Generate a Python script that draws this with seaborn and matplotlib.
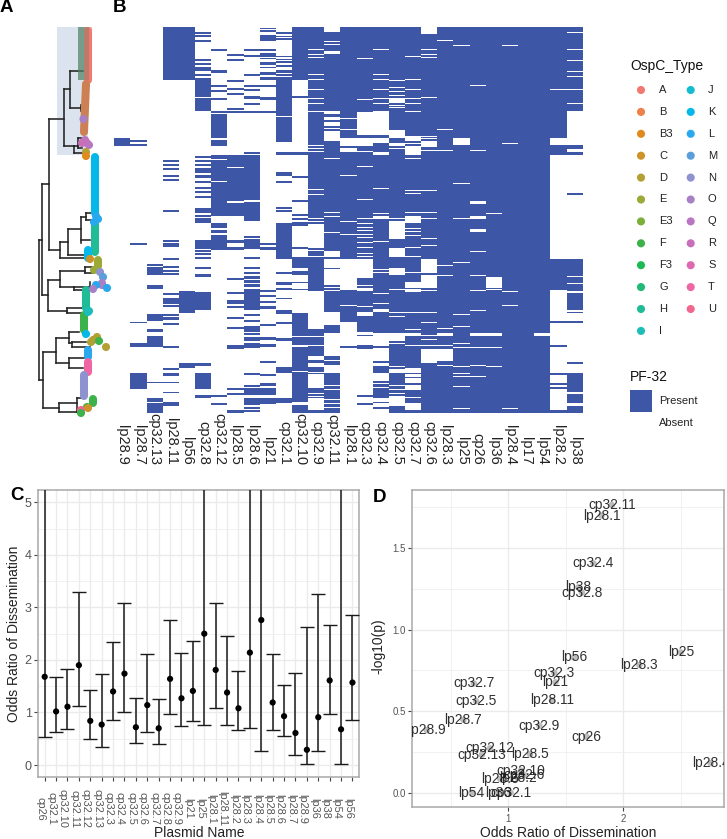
import numpy as np
import pandas as pd
import seaborn as sns
import matplotlib
matplotlib.use("Agg")
import matplotlib.pyplot as plt
from matplotlib.colors import ListedColormap
from matplotlib.patches import Rectangle
from matplotlib.ticker import MultipleLocator, FixedLocator
from matplotlib import transforms

# ---------- Panel B: runs of isolates (rows, top = 0) by plasmid ----------
N_ROWS = 386
lp28_9 = [(111,119)]
lp28_7 = [(113,115),(117,119),(216,218),(295,296),(316,320),(346,362)]
cp32_13 = [(237,239),(240,248),(258,262),(287,294),(302,305),(309,320),(355,356),(371,375),(376,386)]
lp28_11 = [(0,53),(133,135),(137,139),(141,143),(148,150),(152,154),(183,185),(213,215),(216,218),(218,220),(231,233),(239,241),(243,245),(246,248),(266,268),(271,277),(278,280),(287,289),(290,293),(296,298),(319,321),(341,343),(346,349),(355,356),(365,366),(375,379)]
lp56 = [(0,53),(264,286),(336,341)]
cp32_8 = [(5,7),(8,10),(13,15),(32,34),(36,38),(40,44),(47,49),(51,70),(71,84),(129,131),(133,135),(137,139),(141,146),(148,151),(154,156),(160,162),(164,166),(169,171),(181,186),(188,190),(191,196),(213,222),(223,225),(226,228),(230,232),(240,242),(247,250),(265,283),(336,339),(346,362),(368,371)]
cp32_12 = [(22,24),(43,46),(58,60),(63,65),(71,73),(84,86),(87,111),(113,119),(128,132),(133,154),(155,189),(196,201),(203,206),(208,213),(213,223),(368,370),(376,378)]
lp28_5 = [(27,29),(32,34),(53,55),(61,63),(66,68),(81,83),(84,86),(128,140),(141,174),(176,189),(213,216),(220,223),(251,253),(265,267),(273,277),(279,281),(290,292),(300,302),(318,322),(361,363),(366,368),(383,386)]
lp28_6 = [(22,24),(28,30),(47,49),(58,60),(62,64),(69,72),(76,78),(84,86),(125,127),(128,173),(175,194),(209,211),(212,222),(230,232),(240,242),(245,247),(249,252),(253,256),(257,260),(262,283),(287,289),(293,295),(299,305),(306,308),(310,314),(316,321),(346,348),(358,360),(361,368),(371,378),(380,382),(383,385)]
lp21 = [(1,2),(3,5),(8,14),(22,24),(26,30),(31,32),(35,38),(40,41),(45,48),(50,53),(58,60),(70,73),(84,86),(216,218),(220,223),(263,265),(268,270),(274,276),(279,282),(297,299),(310,313),(317,320),(334,336),(347,349),(356,359),(361,368),(371,377)]
cp32_1 = [(5,7),(9,10),(11,13),(29,30),(32,33),(34,36),(38,40),(43,46),(47,49),(50,89),(90,115),(125,128),(145,149),(154,156),(180,182),(183,185),(196,232),(245,247),(255,258),(261,263),(271,272),(283,287),(295,297),(311,314),(340,346),(371,376)]
cp32_10 = [(0,53),(69,71),(125,128),(149,151),(173,175),(187,189),(191,193),(195,199),(220,222),(230,241),(244,248),(255,256),(262,263),(286,309),(310,318),(320,344),(345,375),(378,386)]
lp28_1_abs = [(91,92),(102,104),(111,119),(121,125),(148,150),(194,195),(207,209),(232,263),(278,280),(295,319),(321,386)]
cp32_9_abs = [(22,24),(27,29),(30,32),(47,49),(52,54),(62,64),(71,73),(76,78),(84,86),(118,120),(121,123),(124,126),(162,164),(167,168),(191,193),(194,196),(197,221),(223,225),(229,231),(264,302),(309,311),(318,320),(329,333),(336,340),(345,347),(347,361),(366,368),(369,371),(371,383)]
cp32_11_abs = [(0,5),(14,16),(17,19),(24,27),(84,87),(90,93),(95,99),(101,103),(104,114),(131,133),(185,187),(189,191),(205,207),(224,230),(232,241),(242,258),(260,262),(263,265),(285,298),(306,329),(333,335),(338,346),(358,360),(362,364),(372,374),(376,378),(380,382)]
cp32_3_abs = [(31,33),(72,74),(85,108),(111,119),(124,126),(139,141),(172,174),(191,193),(196,198),(200,202),(203,205),(207,209),(210,212),(215,217),(220,222),(226,228),(229,231),(232,251),(258,260),(261,264),(279,281),(285,289),(305,308),(309,318),(322,368),(370,376),(378,386)]
cp32_4_abs = [(22,24),(47,49),(52,54),(62,64),(71,73),(76,78),(84,108),(111,116),(125,128),(161,163),(186,188),(189,192),(214,216),(242,244),(245,247),(266,268),(276,278),(282,285),(306,319),(321,334),(336,339),(346,354),(356,358),(360,362),(371,375),(376,380),(382,386)]
cp32_5_abs = [(53,55),(60,62),(64,66),(68,70),(71,76),(78,80),(80,82),(103,111),(116,119),(121,123),(191,193),(194,212),(221,230),(241,248),(262,264),(285,287),(289,290),(306,310),(310,314),(316,318),(339,340),(342,346),(358,360),(362,364),(366,368),(369,379)]
cp32_7_abs = [(29,31),(52,54),(62,64),(71,73),(76,78),(84,86),(109,114),(116,118),(119,128),(131,133),(163,165),(166,168),(185,187),(189,196),(201,203),(204,206),(208,210),(220,222),(229,231),(245,247),(255,261),(262,265),(285,287),(302,304),(306,309),(318,320),(341,346),(347,350),(351,356),(358,363),(370,371),(376,383)]
cp32_6_abs = [(0,7),(22,24),(27,29),(30,32),(70,72),(109,110),(111,113),(114,120),(123,125),(163,165),(185,187),(191,193),(211,213),(218,220),(232,246),(248,261),(263,265),(285,286),(295,296),(308,309),(312,314),(318,320),(322,336)]
lp28_3_abs = [(13,15),(102,104),(123,125),(238,240),(248,250),(301,303),(306,309),(318,320),(322,334),(338,340)]
lp25_abs = [(18,20),(111,118),(156,158),(191,193),(235,237),(287,289),(299,301),(316,318),(320,322),(339,340),(346,347),(349,351),(359,361),(381,383)]
cp26_abs = [(58,60),(123,125),(174,177),(189,192),(202,205),(224,226),(248,250),(263,265),(283,285),(306,309),(320,322),(338,340),(349,351)]
lp36_abs = [(186,188),(250,261),(262,264),(306,309),(320,322),(339,340)]
lp28_4_abs = [(18,20),(116,118),(264,266),(278,280),(381,383)]
lp17_abs = []
lp54_abs = [(306,309)]
lp28_2 = [(0,62),(63,111),(118,128),(232,263),(294,296),(318,320),(346,348),(356,358),(360,362),(383,386)]
lp38 = [(0,5),(6,22),(23,33),(34,44),(45,49),(50,62),(63,76),(77,84),(118,122),(125,128),(166,168),(232,249),(250,256),(257,264),(266,283),(285,286),(294,296),(335,337),(346,365),(367,376),(379,386)]

heat_columns = [("lp28.9",lp28_9,1),("lp28.7",lp28_7,1),("cp32.13",cp32_13,1),("lp28.11",lp28_11,1),
    ("lp56",lp56,1),("cp32.8",cp32_8,1),("cp32.12",cp32_12,1),("lp28.5",lp28_5,1),("lp28.6",lp28_6,1),
    ("lp21",lp21,1),("cp32.1",cp32_1,1),("cp32.10",cp32_10,1),("cp32.9",cp32_9_abs,0),("cp32.11",cp32_11_abs,0),
    ("lp28.1",lp28_1_abs,0),("cp32.3",cp32_3_abs,0),("cp32.4",cp32_4_abs,0),("cp32.5",cp32_5_abs,0),
    ("cp32.7",cp32_7_abs,0),("cp32.6",cp32_6_abs,0),("lp28.3",lp28_3_abs,0),("lp25",lp25_abs,0),("cp26",cp26_abs,0),
    ("lp36",lp36_abs,0),("lp28.4",lp28_4_abs,0),("lp17",lp17_abs,0),("lp54",lp54_abs,0),("lp28.2",lp28_2,1),("lp38",lp38,1)]

# ---------- Panel A: tree ----------
tree_h = [(240,39,42),(380,39,43),(184,42,49),(295,42,48),(119,49,64),(250,49,60),(89,64,69.5),(146,64,74),
    (71,69.5,83),(108,69.5,81),(153,74,84),(138,77.5,82),(148,77.5,82),(146,74,77.5),(242,60,68),(258,60,85),
    (229,68,81),(255,68,85),(217,81,86),(240,81,90),(213,86,92),(220,86,92),(280,48,59.5),(311,48,67),
    (271,59.5,85),(287,59.5,74),(267,85,92),(273,85,92),(290,74,85),(287,74,90),(308,67,82),(313,67,82),
    (352,43,55.5),(408,43,58.5),(338,55.5,69),(363,55.5,68.5),(332,69,79),(343,69,72),(342,72,86),(347,72,90),
    (358,68.5,87),(368,68.5,83),(403,58.5,76.5),(412,58.5,80),(398,76.5,82),(412,76.5,80)]
tree_v = [(39,240,380),(42,184,295),(49,119,250),(64,89,146),(69.5,71,108),(81,105,111),(74,146,153),(77.5,138,148),
    (60,242,258),(68,229,255),(81,217,243),(86,213,220),(48,280,311),(59.5,271,287),(85,267,273),(74,287,290),
    (90,282,287),(67,308,313),(43,352,408),(55.5,338,363),(69,332,343),(72,342,347),(68.5,358,368),(58.5,403,412),(76.5,398,412)]
# tip runs: type, x0, y0, x1, y1
tip_runs = [("A",88,31,88,80),("B",86,84,84,132),("K",94.5,157,94.5,213),("H",95,224,95,252),("K",87.5,250,87.5,258),
    ("E",98,260,98,266),("H",85.5,290,85.5,308),("F",84,315,84,330),("L",88,350,88,357),("T",87.5,362,87.5,372),
    ("N",84,375,84,396),("F",92.5,399,92.5,403)]
tip_dots = [("O",83.5,119),("Q",85,140),("R",87,143),("Q",89,145),("R",82,143),("D",86,152),("B3",86,156),
    ("L",98,219),("L",96,216),("L",94,222),("C",90,259),("E",94,270),("N",100,272),("M",103,277),("O",102,283),
    ("O",102,285),("L",96,285),("O",93,289),("L",107,288),("J",88,312),("I",89,311),("K",86,334),("D",91,342),
    ("D",97,337),("D",93,340),("D",106,347),("F",99,341),("F",87,407),("C",88,408),("U",81,410),("F",81,413)]

# ---------- Legend ----------
ospc_left = ["A","B","B3","C","D","E","E3","F","F3","G","H","I"]
ospc_right = ["J","K","L","M","N","O","Q","R","S","T","U"]
ospc_colors = {"A":"#F07A70","B":"#EE8148","B3":"#E08A20","C":"#CC9428","D":"#B3A035","E":"#9CA838","E3":"#7CAF3A",
    "F":"#3DB24A","F3":"#1DB954","G":"#20B978","H":"#20BC98","I":"#1EBDB8","J":"#15BCD0","K":"#05B8E7","L":"#2AA8EE",
    "M":"#5A9FDC","N":"#8E92CF","O":"#A880C6","Q":"#BB76C2","R":"#C76FB8","S":"#DD69B0","T":"#EE66A3","U":"#F1688E"}
B_TIP = "#CC8054"
BLUE = "#3D56A6"

# ---------- Panel C / D ----------
plasmids = ["cp26","cp32.1","cp32.10","cp32.11","cp32.12","cp32.13","cp32.3","cp32.4","cp32.5","cp32.6","cp32.7","cp32.8","cp32.9",
    "lp21","lp25","lp28.1","lp28.11","lp28.2","lp28.3","lp28.4","lp28.5","lp28.6","lp28.7","lp28.9","lp36","lp38","lp54","lp56"]
odds = [1.68,1.02,1.11,1.90,0.84,0.77,1.40,1.74,0.72,1.14,0.70,1.64,1.27,1.41,2.50,1.81,1.38,1.08,2.14,2.76,1.19,0.93,0.61,0.29,0.91,1.61,0.68,1.57]
ci_low = [0.54,0.62,0.69,1.12,0.50,0.34,0.85,1.01,0.41,0.63,0.40,0.98,0.75,0.84,0.76,1.08,0.77,0.66,0.71,0.27,0.67,0.56,0.19,0.01,0.27,0.98,0.01,0.86]
ci_high = [9,1.68,1.83,3.29,1.42,1.73,2.35,3.09,1.28,2.12,1.25,2.76,2.14,2.37,9,3.08,2.45,1.79,9,9,2.11,1.53,1.76,2.63,3.26,2.66,9,2.86]
neglogp = [0.344,0.0,0.135,1.765,0.272,0.231,0.736,1.407,0.562,0.108,0.67,1.227,0.411,0.677,0.86,1.70,0.568,0.09,0.783,0.18,0.235,0.084,0.446,0.384,0.0,1.26,0.0,0.83]

sns.set_theme(style="white")
plt.rcParams["font.family"] = ["Liberation Sans", "DejaVu Sans"]
W, H = 727, 839
fig = plt.figure(figsize=(W/100, H/100), dpi=100)

def px_axes(l, t, r, b, **kw):
    return fig.add_axes([l/W, 1-b/H, (r-l)/W, (b-t)/H], **kw)

def px2fig(x, y):
    return x/W, 1-y/H

# ---------- B heatmap ----------
matrix = np.zeros((N_ROWS, len(heat_columns)))
for j, (_, runs, present) in enumerate(heat_columns):
    matrix[:, j] = 0 if present else 1
    for a, b in runs:
        if not present and b - a == 2:   # single absent isolates are thinner than a two-pixel run
            b = a + 1
        matrix[a:b, j] = 1 if present else 0
axb = px_axes(114.3, 27, 582.7, 413)
sns.heatmap(pd.DataFrame(matrix, columns=[c[0] for c in heat_columns]), ax=axb, cmap=ListedColormap(["white", BLUE]),
            vmin=0, vmax=1, cbar=False, yticklabels=False, linewidths=0)
axb.tick_params(axis="x", length=0, pad=37.4, labelsize=10.5, labelcolor="#222222", bottom=True)
for lab in axb.get_xticklabels():
    lab.set_rotation(-90); lab.set_va("bottom"); lab.set_ha("center")

# ---------- Panel C ----------
GRID = "#EBEBEB"
def style_gg(ax):
    ax.set_axisbelow(True)
    ax.grid(which="major", color=GRID, lw=1.0)
    ax.grid(which="minor", color=GRID, lw=0.5)
    for s in ax.spines.values():
        s.set_visible(True); s.set_color("#A8A8A8"); s.set_linewidth(1.1)
    ax.tick_params(which="major", length=2.7, width=0.8, color="#444444", labelcolor="#555555", bottom=True, left=True)
    ax.tick_params(which="minor", length=0)

axc = px_axes(38.3, 490, 359.3, 777)
xpos = np.arange(len(plasmids))
dfc = pd.DataFrame({"x": xpos, "odds": odds, "low": ci_low, "high": ci_high})
axc.errorbar(dfc.x, dfc.odds, yerr=[dfc.odds-dfc.low, dfc.high-dfc.odds], fmt="none", ecolor="#1a1a1a", elinewidth=1.1, capsize=5.3, capthick=1.0, zorder=3)
sns.scatterplot(data=dfc, x="x", y="odds", ax=axc, color="black", s=20, edgecolor="none", zorder=4)
axc.set_xlim(-0.56, 27.6); axc.set_ylim(-0.228, 5.235)
axc.set_xticks(xpos); axc.set_xticklabels(plasmids)
axc.yaxis.set_major_locator(MultipleLocator(1)); axc.yaxis.set_minor_locator(MultipleLocator(0.5))
style_gg(axc)
axc.tick_params(axis="x", which="major", pad=20.2, labelsize=7.9)
axc.tick_params(axis="y", which="major", labelsize=9, pad=2)
shift = transforms.ScaledTranslation(-4.5/100, 0, fig.dpi_scale_trans)
for lab in axc.get_xticklabels():
    lab.set_rotation(-90); lab.set_va("center"); lab.set_ha("center")
    lab.set_transform(lab.get_transform() + shift)
axc.set_xlabel("Plasmid Name", fontsize=10, color="#222222")
axc.set_ylabel("Odds Ratio of Dissemination", fontsize=10, color="#222222")
axc.xaxis.set_label_coords(*px2fig(199, 833), transform=fig.transFigure); axc.xaxis.label.set_va("center")
axc.yaxis.set_label_coords(*px2fig(14, 634), transform=fig.transFigure); axc.yaxis.label.set_va("center")

# ---------- Panel D ----------
axd = px_axes(412.3, 490, 724, 807)
dfd = pd.DataFrame({"odds": odds, "p": neglogp, "name": plasmids})
sns.scatterplot(data=dfd, x="odds", y="p", ax=axd, color="#BDBDBD", s=22, edgecolor="none", zorder=2)
axd.set_xlim(0.165, 2.876); axd.set_ylim(-0.088, 1.857)
axd.xaxis.set_major_locator(FixedLocator([1, 2])); axd.xaxis.set_minor_locator(FixedLocator([0.5, 1.5, 2.5]))
axd.yaxis.set_major_locator(MultipleLocator(0.5)); axd.yaxis.set_minor_locator(FixedLocator([0.25, 0.75, 1.25, 1.75]))
style_gg(axd)
axd.tick_params(which="major", labelsize=7, pad=2)
for _, row in dfd.iterrows():
    axd.text(row.odds, row.p, row["name"], ha="center", va="center", fontsize=9.9, color="#1a1a1a", alpha=0.9, clip_on=True, zorder=3)
axd.set_xlabel("Odds Ratio of Dissemination", fontsize=10, color="#222222")
axd.set_ylabel("-log10(p)", fontsize=10, color="#222222")
axd.xaxis.set_label_coords(*px2fig(568, 833), transform=fig.transFigure); axd.xaxis.label.set_va("center")
axd.yaxis.set_label_coords(*px2fig(378, 646), transform=fig.transFigure); axd.yaxis.label.set_va("center")

# ---------- Overlay: tree, legend, letters ----------
ov = fig.add_axes([0, 0, 1, 1], facecolor="none")
ov.add_patch(Rectangle((57, 27), 31, 128, color="#C9D6E6", alpha=0.65, lw=0, zorder=1))
for y, x0, x1 in tree_h:
    ov.plot([x0, x1], [y, y], color="#222222", lw=1.15, solid_capstyle="projecting", zorder=2)
for x, y0, y1 in tree_v:
    ov.plot([x, x], [y0, y1], color="#222222", lw=1.15, solid_capstyle="projecting", zorder=2)
for t, x0, y0, x1, y1 in tip_runs:
    col = B_TIP if t == "B" else ospc_colors[t]
    ov.plot([x0, x1], [y0, y1], color=col, lw=5.8, solid_capstyle="round", zorder=3)
dots = pd.DataFrame(tip_dots, columns=["t", "x", "y"])
sns.scatterplot(data=dots, x="x", y="y", hue="t", palette=ospc_colors, s=34, edgecolor="none", legend=False, ax=ov, zorder=4)
ov.set_xlim(0, W); ov.set_ylim(H, 0); ov.axis("off")
ov.add_patch(Rectangle((78, 27), 11, 53, color="#4F8064", alpha=0.72, lw=0, zorder=5))
ov.add_patch(Rectangle((84, 27), 7.5, 53, color="#F07A70", alpha=0.55, lw=0, zorder=6))

ov.text(630, 66, "OspC_Type", fontsize=10, va="center", color="#111111")
for k, (col, x_dot, x_txt) in enumerate([(ospc_left, 641, 659), (ospc_right, 690.7, 708)]):
    rows = np.arange(len(col))
    ov.scatter([x_dot]*len(col), 90 + 21.9*rows, c=[ospc_colors[t] for t in col], s=34, edgecolors="none", zorder=4)
    for r, t in zip(rows, col):
        ov.text(x_txt, 90 + 21.9*r, t, fontsize=8, va="center", color="#222222")
ov.text(630, 377, "PF-32", fontsize=10, va="center", color="#111111")
ov.add_patch(Rectangle((630, 390), 22, 22, color=BLUE, lw=0))
ov.text(659, 401, "Present", fontsize=8, va="center", color="#222222")
ov.text(659, 423, "Absent", fontsize=8, va="center", color="#222222")

for t, x, y in [("A", 0, 8), ("B", 113, 8), ("C", 10, 496), ("D", 373, 497)]:
    ov.text(x, y, t, fontsize=13.5, fontweight="bold", va="center", ha="left", color="black")

fig.savefig("out.png", dpi=100, facecolor="white")
